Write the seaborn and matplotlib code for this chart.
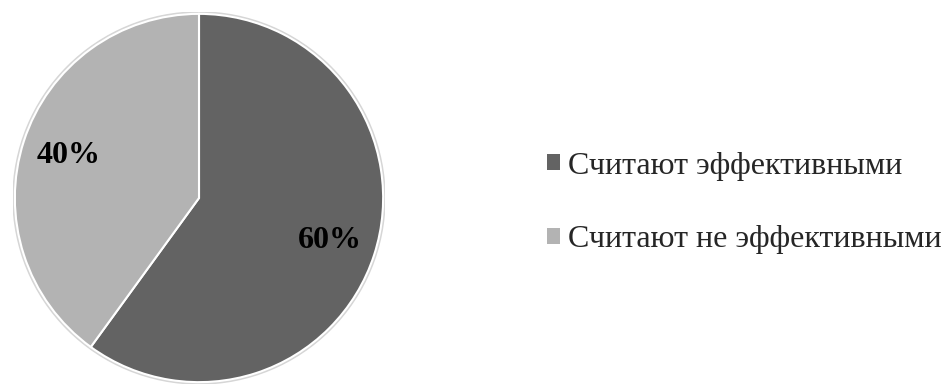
import matplotlib
matplotlib.use("Agg")
import matplotlib.pyplot as plt
import seaborn as sns
from matplotlib.patches import Patch, Circle

sns.set_style("white")
plt.rcParams["font.family"] = ["Liberation Serif", "DejaVu Serif"]

categories = ["Считают эффективными", "Считают не эффективными"]
shares = [60, 40]
colors = ["#636363", "#b3b3b3"]

fig = plt.figure(figsize=(9.47, 3.85), dpi=100)
W, H = 947, 385
cx, cy, r = 199, 385 - 198, 186
ax = fig.add_axes([(cx - r) / W, (cy - r) / H, 2 * r / W, 2 * r / H])

# soft halo around the pie
ax.add_patch(Circle((0, 0), 1.0, color="#d6d6d6", zorder=0))
wedges, texts, autotexts = ax.pie(
    shares, colors=colors, startangle=90, counterclock=False, radius=0.99,
    autopct=lambda p: f"{p:.0f}%", pctdistance=0.745,
    wedgeprops=dict(edgecolor="white", linewidth=1.5),
    textprops=dict(fontsize=23, fontweight="bold", color="black"),
)
ax.set_xlim(-1.0, 1.0)
ax.set_ylim(-1.0, 1.0)
ax.set_aspect("equal")
ax.axis("off")

handles = [Patch(facecolor=c, edgecolor="none") for c in colors]
fig.legend(handles, categories, loc="center left", bbox_to_anchor=(547 / W, 1 - 203 / H),
           frameon=False, fontsize=23, handlelength=0.41, handleheight=0.41,
           handletextpad=0.25, labelspacing=1.4, borderaxespad=0, borderpad=0)

fig.savefig("out.png", dpi=100)
